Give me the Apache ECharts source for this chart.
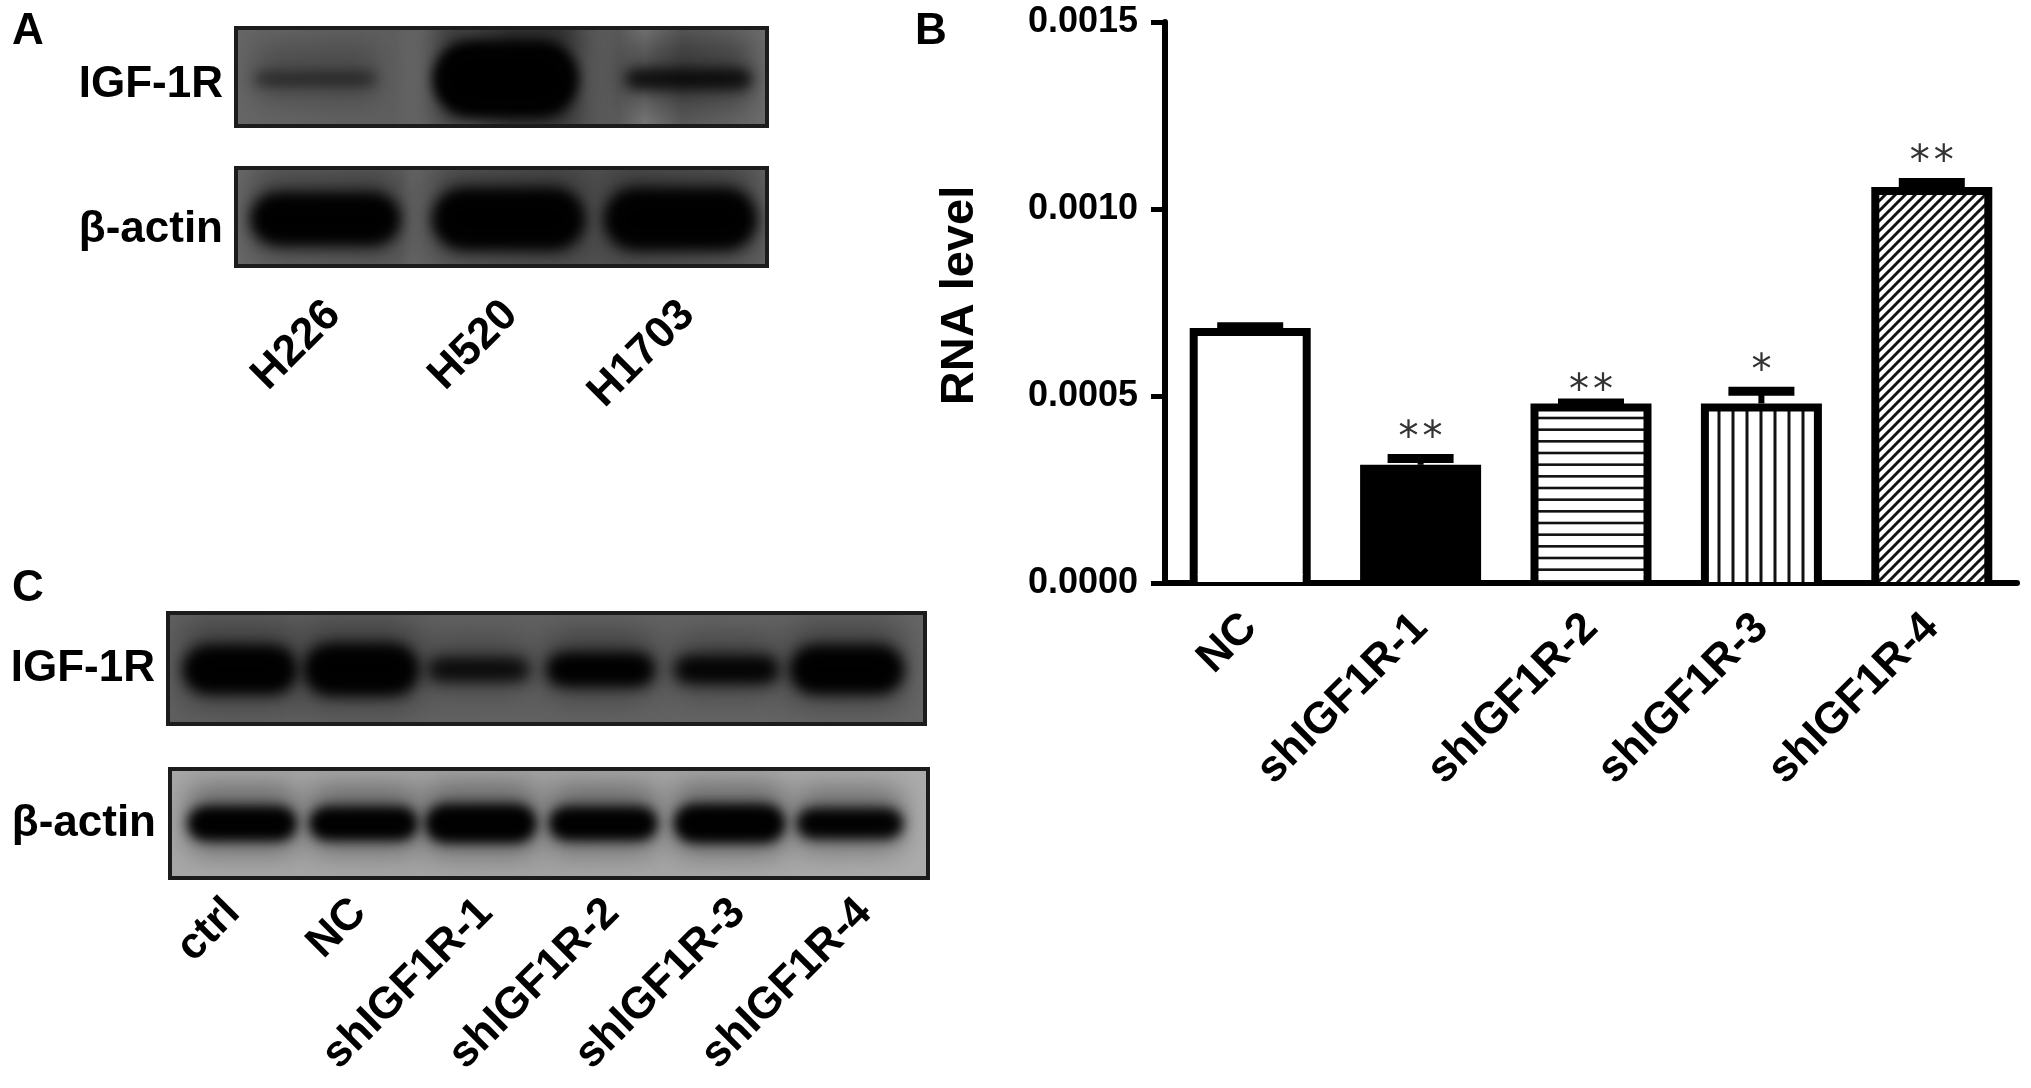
<!DOCTYPE html>
<html>
<head>
<meta charset="utf-8">
<title>IGF-1R</title>
<style>
  html, body { margin: 0; padding: 0; background: #fff; }
  #chart { width: 2031px; height: 1088px; }
</style>
<script src="https://cdn.jsdelivr.net/npm/echarts@6/dist/echarts.min.js"></script>
</head>
<body>
<div id="chart"></div>
<script>
// panel B
const rnaGroups = ['NC', 'shIGF1R-1', 'shIGF1R-2', 'shIGF1R-3', 'shIGF1R-4']
const rnaValues = [0.000682, 0.000316, 0.00048, 0.00048, 0.001059]
const rnaErrors = [0.000003, 0.000017, 0.000001, 0.000033, 0.000012]
const rnaStars = ['', '**', '**', '*', '**']

// panels A and C: lanes and band strength (0-1, read by eye)
const cellLines = ['H226', 'H520', 'H1703']
const igfBandsA = [0.22, 1, 0.4]
const actinBandsA = [0.9, 1, 1]
const knockdownLanes = ['ctrl', 'NC', 'shIGF1R-1', 'shIGF1R-2', 'shIGF1R-3', 'shIGF1R-4']
const igfBandsC = [0.95, 1, 0.5, 0.7, 0.6, 0.95]
const actinBandsC = [0.75, 0.72, 0.85, 0.72, 0.85, 0.65]

const LABEL_FONT = 'Liberation Sans'
const OFFSCREEN = 4000 // soft bands: the shape sits off canvas, only its blurred shadow shows
const BAR_WIDTH = 121
const BAR_BORDER = 8
const starNudge = [0, 0, -9, 0, 0]

// hatch fills
const makeHatch = (w, h, draw) => {
  const c = document.createElement('canvas')
  c.width = w
  c.height = h
  const ctx = c.getContext('2d')
  ctx.fillStyle = '#fff'
  ctx.fillRect(0, 0, w, h)
  ctx.strokeStyle = '#111'
  draw(ctx)
  return { image: c, repeat: 'repeat' }
}
const hLines = makeHatch(8, 35, ctx => {
  ctx.lineWidth = 2.6
  ;[9.67, 21.33, 33].forEach(y => {
    ctx.beginPath()
    ctx.moveTo(0, y)
    ctx.lineTo(8, y)
    ctx.stroke()
  })
})
const vLines = makeHatch(14, 8, ctx => {
  ctx.lineWidth = 3
  ctx.beginPath()
  ctx.moveTo(11, 0)
  ctx.lineTo(11, 8)
  ctx.stroke()
})
const dLines = makeHatch(10, 10, ctx => {
  ctx.lineWidth = 3
  ;[[-5, 5, 5, -5], [0, 10, 10, 0], [5, 15, 15, 5]].forEach(p => {
    ctx.beginPath()
    ctx.moveTo(p[0], p[1])
    ctx.lineTo(p[2], p[3])
    ctx.stroke()
  })
})
const barFills = ['#fff', '#000', hLines, vLines, dLines]

// look of each blot, separate from the band strengths
const blots = [
  {
    box: { left: 236, top: 28, width: 531, height: 98 }, name: 'IGF-1R', margin: 13, nameDrop: 8,
    lanes: cellLines, bands: igfBandsA, showLabels: false,
    shift: [-9, 4, 10], laneW: 130, minH: 8, maxH: 72, bandY: 0.52, blur: 14, halo: 30, haloAlpha: 0.55,
    bg: [[0, '#666'], [0.3, '#5e5e5e'], [0.44, '#7c7c7c'], [0.52, '#5a5a5a'], [0.72, '#5a5a5a'], [0.77, '#787878'], [0.84, '#5a5a5a'], [1, '#6c6c6c']]
  },
  {
    box: { left: 236, top: 168, width: 531, height: 98 }, name: 'β-actin', margin: 13, nameDrop: 13,
    lanes: cellLines, bands: actinBandsA, showLabels: true, labelMargin: 33, labelDrop: 13,
    shift: [1, 7, 2], laneW: 136, minH: 8, maxH: 56, bandY: 0.52, blur: 16, halo: 24, haloAlpha: 0.4,
    bg: [[0, '#6a6a6a'], [0.31, '#606060'], [0.33, '#666'], [0.66, '#555'], [1, '#646464']]
  },
  {
    box: { left: 168, top: 613, width: 757, height: 111 }, name: 'IGF-1R', margin: 13, nameDrop: 0,
    lanes: knockdownLanes, bands: igfBandsC, showLabels: false,
    shift: [9, 4, -5, -9, -9, -15], laneW: 102, minH: 10, maxH: 46, bandY: 0.51, blur: 16, halo: 22, haloAlpha: 0.4,
    bg: [[0, '#606060'], [0.5, '#626262'], [1, '#666']]
  },
  {
    box: { left: 170, top: 769, width: 758, height: 109 }, name: 'β-actin', margin: 14, nameDrop: 0,
    lanes: knockdownLanes, bands: actinBandsC, showLabels: true, labelMargin: 28, labelDrop: 0,
    shift: [9, 4, -5, -9, -9, -15], laneW: 102, minH: 16, maxH: 40, bandY: 0.5, blur: 14, halo: 22, haloAlpha: 0.4,
    bg: [[0, '#a8a8a8'], [0.5, '#a4a4a4'], [1, '#acacac']]
  }
]

const chart = echarts.init(document.getElementById('chart'), null, { renderer: 'canvas' })

// gel background of a blot
const renderGel = (st) => (params) => {
  const cs = params.coordSys
  return {
    type: 'rect',
    shape: { x: cs.x, y: cs.y, width: cs.width, height: cs.height },
    style: {
      fill: new echarts.graphic.LinearGradient(0, 0, 1, 0, st.bg.map(s => ({ offset: s[0], color: s[1] })))
    }
  }
}

const softRect = (x, y, width, height, r, alpha, blur) => ({
  type: 'rect',
  shape: { x: x - OFFSCREEN, y, width, height, r },
  style: { fill: '#000', opacity: alpha, shadowBlur: blur, shadowColor: '#000', shadowOffsetX: OFFSCREEN }
})

// one soft band per lane, darker and thicker as strength goes up
const renderBand = (st) => (params, api) => {
  const cs = params.coordSys
  const lane = api.value(0)
  const strength = api.value(1)
  const cx = api.coord([lane, 0])[0] + st.shift[lane]
  const cy = cs.y + cs.height * st.bandY
  const h = st.minH + (st.maxH - st.minH) * strength * strength
  const w = st.laneW * (0.9 + 0.2 * strength)
  const alpha = Math.min(1, 0.15 + strength * 1.2)
  const left = cx - w / 2
  return {
    type: 'group',
    children: [
      softRect(left, cy - h / 2 - st.halo, w, h + st.halo * 1.6, 12, st.haloAlpha * alpha, st.blur * 2),
      softRect(left, cy - h / 2, w, h, h / 2, alpha, st.blur),
      softRect(left + 4, cy - h / 2 + 2, w - 8, h - 4, Math.max(h / 2 - 2, 0), alpha, st.blur)
    ]
  }
}

// error cap and significance stars over each bar
const renderError = (params, api) => {
  const i = api.value(0)
  const base = api.coord([i, api.value(1)])
  const top = api.coord([i, api.value(1) + api.value(2)])
  const zero = api.coord([i, 0])
  const inner = BAR_WIDTH / 2 - BAR_BORDER
  return {
    type: 'group',
    children: [
      // the bar border closes along the axis in ECharts, the original stays open there
      { type: 'rect', shape: { x: zero[0] - inner, y: zero[1] - BAR_BORDER - 1, width: inner * 2, height: BAR_BORDER }, style: { fill: barFills[i] } },
      { type: 'line', shape: { x1: base[0], y1: base[1], x2: top[0], y2: top[1] }, style: { stroke: '#000', lineWidth: 6 } },
      { type: 'line', shape: { x1: top[0] - 33, y1: top[1], x2: top[0] + 33, y2: top[1] }, style: { stroke: '#000', lineWidth: 9 } },
      {
        type: 'text',
        style: {
          text: rnaStars[i].split('').join('\u200a'), x: top[0], y: top[1] - 19 - starNudge[i], align: 'center', verticalAlign: 'middle',
          font: '40px "DejaVu Sans"', fill: '#333'
        }
      }
    ]
  }
}

const grids = [{ left: 1165, top: 22, width: 852, height: 561 }]
const xAxes = [{
  type: 'category',
  gridIndex: 0,
  data: rnaGroups,
  axisLine: { lineStyle: { color: '#000', width: 6 } },
  axisTick: { alignWithLabel: true, length: 19, lineStyle: { color: '#000', width: 5 } },
  axisLabel: { color: '#000', fontFamily: LABEL_FONT, fontWeight: 'bold', fontSize: 44, rotate: 45, margin: 38, interval: 0 }
}]
const yAxes = [{
  type: 'value',
  gridIndex: 0,
  min: 0,
  max: 0.0015,
  interval: 0.0005,
  name: 'RNA level',
  nameLocation: 'middle',
  nameGap: 181,
  nameTextStyle: { color: '#000', fontFamily: LABEL_FONT, fontWeight: 'bold', fontSize: 47, padding: [0, 0, 0, 14] },
  axisLine: { show: true, lineStyle: { color: '#000', width: 6 } },
  axisTick: { show: true, length: 14, lineStyle: { color: '#000', width: 5 } },
  splitLine: { show: false },
  axisLabel: {
    color: '#000', fontFamily: LABEL_FONT, fontWeight: 'bold', fontSize: 36, margin: 27,
    formatter: v => v.toFixed(4)
  }
}]
const series = [
  {
    type: 'bar',
    xAxisIndex: 0,
    yAxisIndex: 0,
    barWidth: BAR_WIDTH,
    data: rnaValues.map((v, i) => ({
      value: v,
      itemStyle: { color: barFills[i], borderColor: '#000', borderWidth: BAR_BORDER }
    }))
  },
  {
    type: 'custom',
    xAxisIndex: 0,
    yAxisIndex: 0,
    renderItem: renderError,
    data: rnaValues.map((v, i) => [i, v, rnaErrors[i]]),
    z: 3
  }
]

blots.forEach((st, n) => {
  const idx = n + 1
  grids.push({ ...st.box, show: true, z: 5, backgroundColor: 'transparent', borderColor: '#1c1c1c', borderWidth: 4 })
  xAxes.push({
    type: 'category',
    gridIndex: idx,
    data: st.lanes,
    axisLine: { show: false },
    axisTick: { show: false },
    axisLabel: {
      show: st.showLabels, color: '#000', fontFamily: LABEL_FONT, fontWeight: 'bold', fontSize: 44,
      rotate: 45, margin: st.labelMargin, interval: 0,
      // top aligned with a short line box moves the text down by half the box
      verticalAlign: st.labelDrop ? 'top' : 'middle', lineHeight: st.labelDrop ? st.labelDrop * 2 : undefined
    }
  })
  yAxes.push({
    type: 'category',
    gridIndex: idx,
    data: [st.name],
    axisLine: { show: false },
    axisTick: { show: false },
    axisLabel: {
      color: '#000', fontFamily: LABEL_FONT, fontWeight: 'bold', fontSize: 44, margin: st.margin,
      verticalAlign: st.nameDrop ? 'top' : 'middle', lineHeight: st.nameDrop ? st.nameDrop * 2 : undefined
    }
  })
  series.push({
    type: 'custom',
    xAxisIndex: idx,
    yAxisIndex: idx,
    renderItem: renderGel(st),
    data: [[0, 0]],
    z: 1
  })
  series.push({
    type: 'custom',
    xAxisIndex: idx,
    yAxisIndex: idx,
    renderItem: renderBand(st),
    clip: true,
    data: st.bands.map((b, i) => [i, b]),
    z: 2
  })
})

chart.setOption({
  backgroundColor: '#fff',
  animation: false,
  title: [
    { text: 'A', left: 12, top: 10 },
    { text: 'B', left: 915, top: 10 },
    { text: 'C', left: 12, top: 567 }
  ].map(t => ({ ...t, padding: 0, textStyle: { color: '#000', fontFamily: LABEL_FONT, fontWeight: 'bold', fontSize: 44 } })),
  grid: grids,
  xAxis: xAxes,
  yAxis: yAxes,
  series: series
})
</script>
</body>
</html>
